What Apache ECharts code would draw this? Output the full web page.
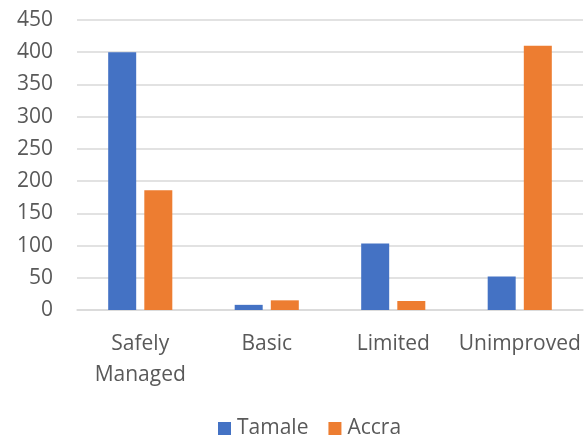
<!DOCTYPE html>
<html>
<head>
<meta charset="utf-8">
<script src="https://cdn.jsdelivr.net/npm/echarts@6/dist/echarts.min.js"></script>
<style>
html, body { margin: 0; padding: 0; background: #fff; }
#chart { width: 588px; height: 443px; }
</style>
</head>
<body>
<div id="chart"></div>
<script>
// 数据
const categories = ['Safely\nManaged', 'Basic', 'Limited', 'Unimproved']
const tamale = [400, 8, 103, 52]
const accra = [186, 15, 14, 410]
const color = ['#4472C4', '#ED7D31']

const chart = echarts.init(document.getElementById('chart'), null, { renderer: 'canvas' })
const font = '"Open Sans", sans-serif'
const option = {
    color: color,
    animation: false,
    grid: { left: 77, right: 5, top: 20, bottom: 133, containLabel: false },
    legend: {
        top: 413,
        left: 213,
        itemWidth: 13,
        itemHeight: 13,
        itemGap: 20,
        icon: 'rect',
        textStyle: { color: '#595959', fontSize: 21, fontFamily: font, padding: [0, 0, 0, 1] },
        data: ['Tamale', 'Accra']
    },
    xAxis: {
        type: 'category',
        data: categories,
        axisTick: { show: false },
        axisLine: { show: true, lineStyle: { color: '#d9d9d9', width: 1.5 } },
        axisLabel: { color: '#595959', fontSize: 21, fontFamily: font, margin: 19, lineHeight: 31, interval: 0 }
    },
    yAxis: {
        type: 'value',
        min: 0,
        max: 450,
        interval: 50,
        axisLine: { show: false },
        axisTick: { show: false },
        splitLine: { lineStyle: { color: '#d9d9d9', width: 1.5 } },
        axisLabel: { color: '#595959', fontSize: 21, fontFamily: font, margin: 24 }
    },
    series: [
        { name: 'Tamale', type: 'bar', data: tamale, barWidth: 28, barGap: '29%' },
        { name: 'Accra', type: 'bar', data: accra, barWidth: 28, barGap: '29%' }
    ]
}
chart.setOption(option)
</script>
</body>
</html>
